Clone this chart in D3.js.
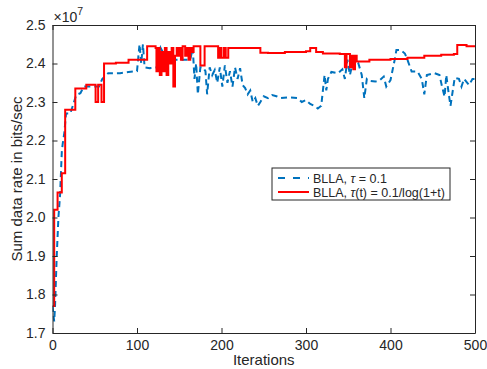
<!DOCTYPE html>
<html>
<head>
<meta charset="utf-8">
<script src="https://cdn.jsdelivr.net/npm/d3@7"></script>
<style>
  body { margin: 0; background: #fff; }
  text { font-family: 'Liberation Sans', Arial, Helvetica, sans-serif; fill: #262626; }
</style>
</head>
<body>
<div class="canvas"></div>
<script>
'use strict';

// Data (values in units of 1e7 bits/sec)
var redIter = [0, 2, 6, 11, 15, 27, 40, 51, 54, 58, 61, 75, 90, 112, 122,
  123, 125, 127, 129, 131, 133, 135, 137, 139, 141, 143, 145, 147, 148, 150, 152, 154,
  157, 159, 161, 163, 165, 167, 175, 180, 196, 198, 200, 203, 205, 208, 212, 246, 255,
  275, 300, 305, 312, 320, 340, 346, 348, 352, 354, 356, 358, 360, 375, 400, 420, 440,
  460, 475, 479, 490, 500];
var redVal = [1.77, 2.02, 2.065, 2.115, 2.28, 2.335, 2.345, 2.30, 2.345, 2.30, 2.40, 2.402, 2.41, 2.445, 2.44,
  2.38, 2.44, 2.37, 2.43, 2.38, 2.44, 2.37, 2.43, 2.40, 2.44, 2.34, 2.42, 2.44, 2.42, 2.44, 2.41, 2.445,
  2.42, 2.44, 2.41, 2.44, 2.43, 2.445, 2.395, 2.445, 2.415, 2.44, 2.415, 2.44, 2.415, 2.44, 2.44, 2.428, 2.427,
  2.43, 2.432, 2.44, 2.43, 2.426, 2.425, 2.39, 2.425, 2.39, 2.42, 2.385, 2.42, 2.405, 2.41, 2.412, 2.415, 2.42,
  2.423, 2.425, 2.448, 2.445, 2.447];

var blueIter = [0, 2, 3, 5, 7, 9, 11, 12, 14, 16, 21, 24, 28, 33, 37, 45, 55, 59, 66, 80, 90, 100,
  103, 105, 107, 109, 115, 125, 128, 135, 145, 155, 163, 166, 168, 170, 172, 175, 178, 181, 183,
  186, 189, 192, 195, 198, 201, 204, 207, 210, 213, 216, 219, 222, 225, 228, 231, 234, 237, 240,
  243, 246, 250, 255, 260, 265, 270, 280, 290, 295, 300, 305, 310, 314, 318, 322, 324, 326, 330,
  338, 343, 346, 349, 352, 355, 358, 362, 366, 369, 372, 376, 382, 387, 392, 395, 400, 405, 407,
  412, 417, 420, 425, 432, 437, 440, 443, 452, 458, 461, 464, 466, 469, 471, 476, 481, 484, 487,
  493, 497, 500];
var blueVal = [1.77, 1.73, 1.77, 1.90, 2.00, 2.06, 2.17, 2.19, 2.22, 2.27, 2.27, 2.29, 2.318, 2.323, 2.34, 2.34, 2.34, 2.36, 2.375, 2.375, 2.378, 2.38,
  2.45, 2.40, 2.45, 2.39, 2.388, 2.39, 2.44, 2.41, 2.41, 2.41, 2.41, 2.44, 2.36, 2.40, 2.32, 2.39, 2.39, 2.38, 2.32,
  2.39, 2.37, 2.383, 2.35, 2.39, 2.34, 2.395, 2.35, 2.38, 2.34, 2.39, 2.36, 2.388, 2.344, 2.336, 2.32, 2.33, 2.30, 2.31,
  2.29, 2.30, 2.315, 2.31, 2.318, 2.315, 2.31, 2.312, 2.31, 2.30, 2.305, 2.295, 2.29, 2.283, 2.29, 2.37, 2.33, 2.36, 2.378,
  2.375, 2.385, 2.36, 2.41, 2.37, 2.40, 2.39, 2.40, 2.37, 2.31, 2.36, 2.355, 2.353, 2.356, 2.366, 2.34, 2.357, 2.41, 2.435,
  2.435, 2.426, 2.41, 2.379, 2.379, 2.36, 2.32, 2.37, 2.375, 2.37, 2.34, 2.314, 2.37, 2.32, 2.29, 2.363, 2.36, 2.34, 2.36,
  2.344, 2.36, 2.36];

var xTicks = [0, 100, 200, 300, 400, 500];
var yTicks = [1.7, 1.8, 1.9, 2.0, 2.1, 2.2, 2.3, 2.4, 2.5];
var legendLabels = ['BLLA, ', 'BLLA, '];
var legendTau = [' = 0.1', '(t) = 0.1/log(1+t)'];

// Layout
var width = 487, height = 369;
var margin = { top: 25, right: 12, left: 52.5, bottom: 36 };
var graphWidth = width - margin.left - margin.right;
var graphHeight = height - margin.top - margin.bottom;
var axisColor = '#262626';

var svg = d3.select('.canvas').append('svg').attr('width', width).attr('height', height);
var graph = svg.append('g').attr('transform', 'translate(' + margin.left + ', ' + margin.top + ')');

var x = d3.scaleLinear().domain([0, 500]).range([0, graphWidth]);
var y = d3.scaleLinear().domain([1.7, 2.5]).range([graphHeight, 0]);

// Lines
var redData = redIter.map(function (d, i) { return [d, redVal[i]]; });
var blueData = blueIter.map(function (d, i) { return [d, blueVal[i]]; });

var clip = svg.append('clipPath').attr('id', 'clip').append('rect')
  .attr('width', graphWidth).attr('height', graphHeight);

var plot = graph.append('g').attr('clip-path', 'url(#clip)');

plot.append('path').datum(blueData)
  .attr('fill', 'none').attr('stroke', '#0072BD').attr('stroke-width', 2)
  .attr('stroke-dasharray', '6,4')
  .attr('d', d3.line().x(function (d) { return x(d[0]); }).y(function (d) { return y(d[1]); }));

plot.append('path').datum(redData)
  .attr('fill', 'none').attr('stroke', '#ff0000').attr('stroke-width', 2)
  .attr('d', d3.line().curve(d3.curveStepAfter).x(function (d) { return x(d[0]); }).y(function (d) { return y(d[1]); }));

// Axes (ticks pointing inward, box on all sides)
var xAxis = d3.axisBottom(x).tickValues(xTicks).tickSizeInner(-5).tickSizeOuter(0).tickPadding(7);
var yAxis = d3.axisLeft(y).tickValues(yTicks).tickSizeInner(-5).tickSizeOuter(0).tickPadding(7)
  .tickFormat(d3.format('.1f'));
var xAxisTop = d3.axisTop(x).tickValues(xTicks).tickSizeInner(-5).tickSizeOuter(0).tickFormat('');
var yAxisRight = d3.axisRight(y).tickValues(yTicks).tickSizeInner(-5).tickSizeOuter(0).tickFormat('');

var axes = [
  graph.append('g').attr('transform', 'translate(0, ' + graphHeight + ')').call(xAxis),
  graph.append('g').call(yAxis),
  graph.append('g').call(xAxisTop),
  graph.append('g').attr('transform', 'translate(' + graphWidth + ', 0)').call(yAxisRight)
];
axes.forEach(function (a) {
  a.selectAll('path, line').attr('stroke', axisColor);
  a.selectAll('text').attr('fill', axisColor).style('font-size', '14px')
    .style('font-family', "'Liberation Sans', Arial, sans-serif");
});

// Exponent label
var expo = svg.append('text').attr('x', margin.left + 1).attr('y', 22).style('font-size', '14px');
expo.append('tspan').text('\u00d710');
expo.append('tspan').attr('dy', -7).style('font-size', '10.5px').text('7');

// Axis titles
svg.append('text').attr('x', margin.left + graphWidth / 2).attr('y', 365)
  .attr('text-anchor', 'middle').style('font-size', '15px').text('Iterations');

svg.append('text').attr('transform', 'translate(22, ' + (margin.top + graphHeight / 2) + ') rotate(-90)')
  .attr('text-anchor', 'middle').style('font-size', '15px').text('Sum data rate in bits/sec');

// Legend
var legend = svg.append('g').attr('transform', 'translate(272, 168)');
legend.append('rect').attr('width', 178).attr('height', 32)
  .attr('fill', '#fff').attr('stroke', axisColor).attr('stroke-width', 1);

var legendColors = ['#0072BD', '#ff0000'];
var legendDash = ['7,8', null];
legendLabels.forEach(function (label, i) {
  var cy = 10 + i * 14;
  legend.append('line').attr('x1', 6).attr('x2', 37).attr('y1', cy).attr('y2', cy)
    .attr('stroke', legendColors[i]).attr('stroke-width', 2).attr('stroke-dasharray', legendDash[i]);
  var t = legend.append('text').attr('x', 41).attr('y', cy + 4.5).style('font-size', '12.5px');
  t.append('tspan').text(label);
  t.append('tspan').style('font-style', 'italic').text('\u03c4');
  t.append('tspan').text(legendTau[i]);
});
</script>
</body>
</html>
